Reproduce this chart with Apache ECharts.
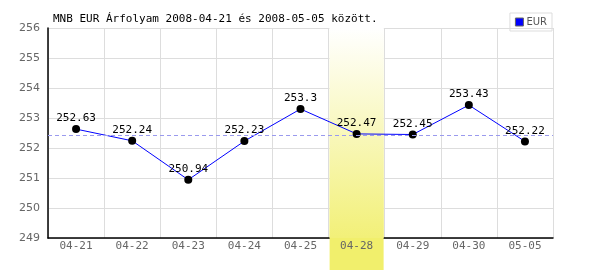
<!DOCTYPE html>
<html>
<head>
<meta charset="utf-8">
<script src="https://cdn.jsdelivr.net/npm/echarts@6/dist/echarts.min.js"></script>
<style>
	html, body { margin: 0; padding: 0; background: #fff; }
	#chart { width: 600px; height: 270px; }
</style>
</head>
<body>
<div id="chart"></div>
<script>
	// adatok
	const categories = ['04-21', '04-22', '04-23', '04-24', '04-25', '04-28', '04-29', '04-30', '05-05']
	const eurValues = [252.63, 252.24, 250.94, 252.23, 253.3, 252.47, 252.45, 253.43, 252.22]
	const highlightDay = '04-28'
	const yTicks = [249, 250, 251, 252, 253, 254, 255, 256]

	const mono = 'DejaVu Sans Mono'
	const yMin = yTicks[0]
	const yMax = yTicks[yTicks.length - 1]
	// kiemelt nap oszlopa (a teljes magasságig)
	const highlightBand = categories.map((c) => c === highlightDay ? yMax : null)

	const myChart = echarts.init(document.getElementById('chart'))
	const option = {
		animation: false,
		title: {
			text: 'MNB EUR Árfolyam 2008-04-21 és 2008-05-05 között.',
			left: 48,
			top: 9,
			textStyle: {
				fontFamily: mono,
				fontSize: 11,
				fontWeight: 'normal',
				color: '#000'
			}
		},
		legend: {
			right: 48,
			top: 13,
			itemWidth: 8,
			itemHeight: 8,
			itemGap: 4,
			padding: [4, 5, 4, 5],
			borderColor: '#ddd',
			borderWidth: 1,
			icon: 'rect',
			textStyle: {
				fontFamily: 'DejaVu Sans',
				fontSize: 10,
				color: '#555',
				padding: [0, 0, 0, -2]
			},
			data: [{ name: 'EUR', itemStyle: { color: '#0000ff', borderColor: '#666', borderWidth: 1 } }]
		},
		grid: {
			left: 48,
			right: 47,
			top: 28,
			bottom: 32
		},
		xAxis: {
			type: 'category',
			data: categories,
			boundaryGap: true,
			axisLine: { lineStyle: { color: '#000', width: 1.5 } },
			axisTick: { show: false },
			splitLine: { show: true, interval: 0, lineStyle: { color: '#ddd' } },
			axisLabel: {
				interval: 0,
				margin: 0,
				formatter: (v) => v === highlightDay ? '{hl|' + v + '}\n{hl| }' : '{n|' + v + '}',
				rich: {
					n: { fontFamily: mono, fontSize: 11, color: '#666', lineHeight: 16 },
					hl: {
						fontFamily: mono,
						fontSize: 11,
						color: '#666',
						width: 54,
						height: 16,
						align: 'center',
						lineHeight: 16,
						backgroundColor: '#f1ef6c'
					}
				}
			}
		},
		yAxis: {
			type: 'value',
			min: yMin,
			max: yMax,
			interval: 1,
			axisLine: { show: true, lineStyle: { color: '#000', width: 1.5 } },
			axisTick: { show: false },
			splitLine: { lineStyle: { color: '#ddd' } },
			axisLabel: {
				fontFamily: 'DejaVu Sans',
				fontSize: 11,
				color: '#666',
				margin: 8
			}
		},
		series: [
			{
				name: 'band',
				type: 'bar',
				data: highlightBand,
				barWidth: '97%',
				silent: true,
				z: 1,
				itemStyle: {
					color: new echarts.graphic.LinearGradient(0, 0, 0, 1, [
						{ offset: 0, color: '#ffffff' },
						{ offset: 1, color: '#f2f078' }
					])
				}
			},
			{
				name: 'EUR',
				type: 'line',
				data: eurValues,
				z: 3,
				lineStyle: { color: '#0000ff', width: 1 },
				symbol: 'circle',
				symbolSize: 8,
				itemStyle: { color: '#000' },
				label: {
					show: true,
					position: 'top',
					distance: 1,
					fontFamily: mono,
					fontSize: 11,
					color: '#000'
				},
				markLine: {
					silent: true,
					symbol: 'none',
					label: { show: false },
					lineStyle: { color: '#9a9aee', type: [4, 3], width: 1 },
					data: [{ type: 'average' }]
				}
			}
		]
	}

	option && myChart.setOption(option)
</script>
</body>
</html>
